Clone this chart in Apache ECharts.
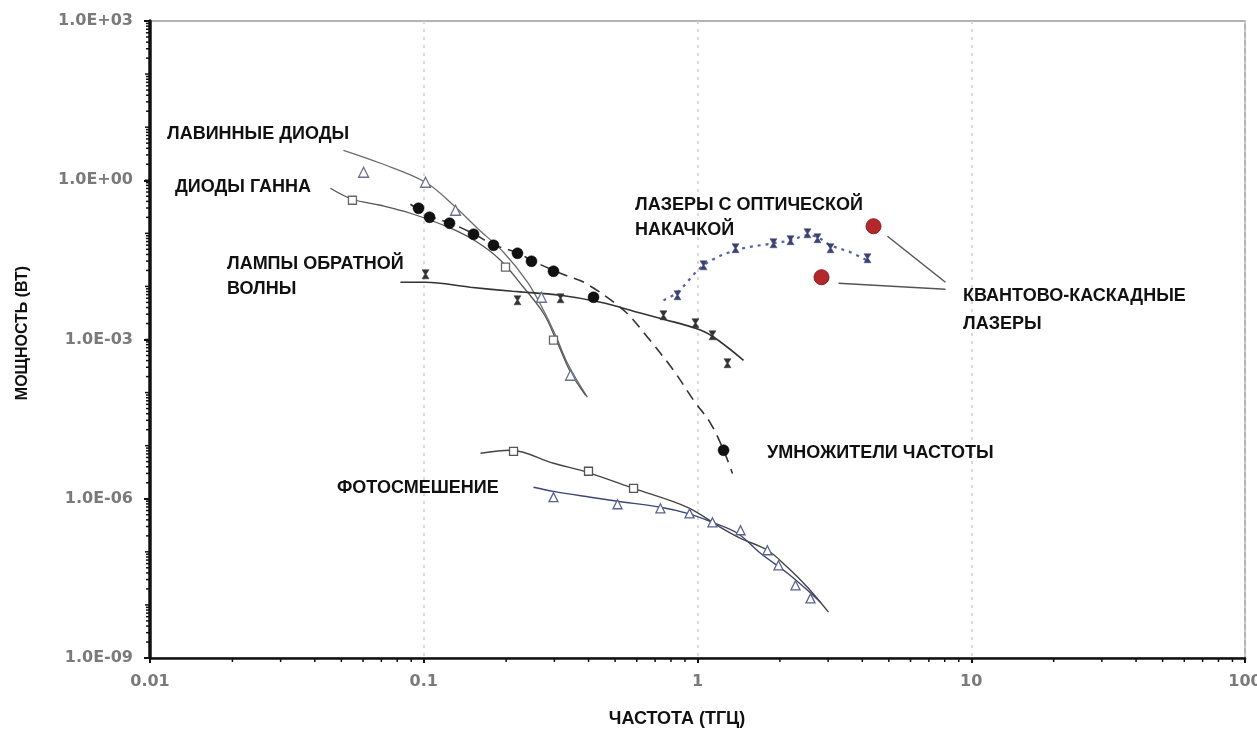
<!DOCTYPE html>
<html>
<head>
<meta charset="utf-8">
<script src="https://cdn.jsdelivr.net/npm/echarts@6/dist/echarts.min.js"></script>
<style>html,body{margin:0;padding:0;background:#fff}#c{width:1257px;height:729px}</style>
</head>
<body>
<div id="c"></div>
<script>
// ---- tick labels ----
const xTickLabels = ['0.01', '0.1', '1', '10', '100'];
const yTickLabels = ['1.0E-09', '1.0E-06', '1.0E-03', '1.0E+00', '1.0E+03'];
const minorMultipliers = [2, 3, 4, 5, 6, 7, 8, 9];
const xDecades = [0.01, 0.1, 1, 10];
const yDecades = [1e-9, 1e-8, 1e-7, 1e-6, 1e-5, 1e-4, 1e-3, 1e-2, 1e-1, 1, 10, 100];

// ---- data: [frequency THz, power W] ----
const avalancheCurve = [[0.0509,3.67],[0.0695,2.09],[0.1015,0.917],[0.1284,0.338],[0.157,0.125],[0.1956,0.044],[0.2393,0.012],[0.2738,0.00356],[0.303,0.0012],[0.338,3.27e-4],[0.396,8.2e-5]];
const avalancheMarks = [[0.0603,1.415],[0.1015,0.917],[0.1306,0.272],[0.269,0.00625],[0.3437,2.12e-4]];

const gunnCurve = [[0.0456,0.707],[0.0549,0.4385],[0.0695,0.338],[0.0894,0.239],[0.1253,0.125],[0.157,0.0679],[0.1907,0.0311],[0.2314,0.00964],[0.2738,0.00312],[0.303,0.00105],[0.3437,2.41e-4],[0.390,8.9e-5]];
const gunnMarks = [[0.0549,0.42],[0.1989,0.023],[0.2978,9.7e-4]];

const multiplierCurve = [[0.0894,0.353],[0.105,0.21],[0.1242,0.158],[0.152,0.098],[0.1798,0.061],[0.22,0.043],[0.2475,0.031],[0.2978,0.02],[0.3295,0.0162],[0.39,0.0115],[0.537,0.00356],[0.657,0.0011],[0.817,2.63e-4],[0.967,7.2e-5],[1.116,2.64e-5],[1.245,8.2e-6],[1.342,3.0e-6]];
const multiplierMarks = [[0.0957,0.297],[0.105,0.201],[0.1242,0.155],[0.152,0.0961],[0.1798,0.0596],[0.22,0.0421],[0.2475,0.0298],[0.2978,0.0193],[0.417,0.00625],[1.245,8.2e-6]];

const bwoCurve = [[0.0822,0.01198],[0.1015,0.01198],[0.148,0.00964],[0.211,0.0081],[0.316,0.00681],[0.442,0.00503],[0.604,0.00326],[0.751,0.00241],[0.983,0.00163],[1.134,0.00115],[1.473,4.06e-4]];
const bwoMarks = [[0.1015,0.01694],[0.220,0.00548],[0.316,0.00598],[0.751,0.00286],[0.983,0.00202],[1.134,0.0012],[1.287,3.57e-4]];

const laserCurve = [[0.751,0.00548],[0.845,0.00776],[1.052,0.025],[1.377,0.048],[1.895,0.065],[2.186,0.0741],[2.522,0.092],[2.744,0.0844],[3.061,0.0596],[3.622,0.044],[4.285,0.0285]];
const laserMarks = [[0.845,0.00681],[1.052,0.025],[1.377,0.0524],[1.895,0.065],[2.186,0.0741],[2.522,0.1003],[2.744,0.0808],[3.061,0.0524],[4.178,0.0339]];

const qclPoints = [[4.395,0.136],[2.838,0.0149]];
const qclLeader1 = [[4.943,0.0881],[8.05,0.01198]];
const qclLeader2 = [[3.273,0.01147],[8.05,0.00884]];

const photoUpperCurve = [[0.1612,7.19e-6],[0.2074,8.19e-6],[0.2978,4.66e-6],[0.396,3.15e-6],[0.584,1.57e-6],[0.919,6.9e-7],[1.213,2.9e-7],[1.436,1.8e-7],[1.802,1.07e-7],[2.132,5.1e-8],[2.522,2.15e-8],[3.01,7.3e-9]];
const photoUpperMarks = [[0.2128,7.84e-6],[0.3998,3.3e-6],[0.584,1.57e-6]];
const photoLowerCurve = [[0.2517,1.65e-6],[0.2978,1.38e-6],[0.4066,1.07e-6],[0.5103,8.97e-7],[0.732,6.9e-7],[0.919,5.3e-7],[1.134,3.6e-7],[1.4,2.24e-7],[1.699,9.4e-8],[2.132,3.95e-8],[2.522,1.89e-8],[2.813,1.12e-8]];
const photoLowerMarks = [[0.2978,1.07e-6],[0.5103,7.87e-7],[0.732,6.6e-7],[0.935,5.3e-7],[1.134,3.6e-7],[1.436,2.55e-7],[1.8,1.07e-7],[1.976,5.58e-8],[2.28,2.34e-8],[2.587,1.33e-8]];

// ---- build ----
const X_MIN = 0.01, X_MAX = 100, Y_MIN = 1e-9, Y_MAX = 1e3;
const xMinor = [];
xDecades.forEach(d => minorMultipliers.forEach(m => xMinor.push([d * m, Y_MIN])));
const yMinor = [];
yDecades.forEach(d => minorMultipliers.forEach(m => yMinor.push([X_MIN, d * m])));
const yMajorSmall = yDecades.map(d => [X_MIN, d]);

const HOURGLASS = 'path://M0,0L10,0L6,5L10,10L0,10L4,5Z';
const labelFont = 'bold 18px "Liberation Sans", Arial, sans-serif';
const yNameFont = 'bold 16px "Liberation Sans Narrow", "Liberation Sans", sans-serif';
const xNameFont = 'bold 18px "Liberation Sans Narrow", "Liberation Sans", sans-serif';

function lineSeries(data, color, width, type, z) {
  return { type: 'line', data, smooth: 0.35, showSymbol: false, symbol: 'none', silent: true,
    lineStyle: { color, width, type: type || 'solid' }, z: z || 2, animation: false };
}
function markSeries(data, symbol, size, fill, stroke, bw) {
  return { type: 'scatter', data, symbol, symbolSize: size, silent: true, z: 5, animation: false,
    itemStyle: { color: fill, borderColor: stroke, borderWidth: bw, opacity: 1 } };
}
function tickSeries(data, dir, len) {
  return { type: 'custom', data, clip: false, silent: true, z: 10, animation: false,
    renderItem(params, api) {
      const p = api.coord([api.value(0), api.value(1)]);
      const shape = dir === 'x' ? { x1: p[0], y1: p[1], x2: p[0], y2: p[1] + len }
                                : { x1: p[0], y1: p[1], x2: p[0] - len, y2: p[1] };
      return { type: 'line', shape, style: { stroke: '#111', lineWidth: 1.5 } };
    } };
}

const texts = [
  ['ЛАВИННЫЕ ДИОДЫ', 167, 134],
  ['ДИОДЫ ГАННА', 175, 187],
  ['ЛАМПЫ ОБРАТНОЙ', 227, 264],
  ['ВОЛНЫ', 227, 289],
  ['ЛАЗЕРЫ С ОПТИЧЕСКОЙ', 635, 205],
  ['НАКАЧКОЙ', 635, 230],
  ['КВАНТОВО-КАСКАДНЫЕ', 963, 296],
  ['ЛАЗЕРЫ', 963, 324],
  ['УМНОЖИТЕЛИ ЧАСТОТЫ', 767, 453],
  ['ФОТОСМЕШЕНИЕ', 337, 488]
];

const chart = echarts.init(document.getElementById('c'), null, { renderer: 'canvas' });
chart.setOption({
  animation: false,
  backgroundColor: '#fff',
  grid: { left: 150, right: 12, top: 21, bottom: 71, containLabel: false, outerBoundsMode: 'none',
    show: true, borderColor: '#9a9a9a', borderWidth: 1.5, backgroundColor: 'transparent' },
  xAxis: {
    type: 'log', logBase: 10, min: X_MIN, max: X_MAX,
    axisLine: { show: true, lineStyle: { color: '#111', width: 2.5 } },
    axisTick: { show: true, length: 5, inside: false, lineStyle: { color: '#111', width: 2 } },
    axisLabel: { margin: 16, color: '#7a7a7a', fontFamily: '"DejaVu Sans", sans-serif', fontWeight: 'bold', fontSize: 16,
      hideOverlap: false, showMaxLabel: true, showMinLabel: true,
      formatter: v => xTickLabels[Math.round(Math.log10(v)) + 2] },
    splitLine: { show: true, lineStyle: { color: '#cfcfcf', type: [3, 5], width: 1.5 } },
    minorTick: { show: false }
  },
  yAxis: {
    type: 'log', logBase: 1000, min: Y_MIN, max: Y_MAX,
    axisLine: { show: true, lineStyle: { color: '#111', width: 3.5 } },
    axisTick: { show: true, length: 6, lineStyle: { color: '#111', width: 2 } },
    axisLabel: { margin: 17, color: '#7a7a7a', fontFamily: '"DejaVu Sans", sans-serif', fontWeight: 'bold', fontSize: 16,
      formatter: v => yTickLabels[Math.round(Math.log10(v) / 3) + 3] },
    splitLine: { show: false }
  },
  graphic: [
    { type: 'text', x: 23, y: 333, rotation: Math.PI / 2, z: 100,
      style: { text: 'МОЩНОСТЬ (ВТ)', font: yNameFont, fill: '#111', align: 'center', verticalAlign: 'middle' } },
    { type: 'text', x: 677, y: 719, z: 100,
      style: { text: 'ЧАСТОТА (ТГЦ)', font: xNameFont, fill: '#111', align: 'center', verticalAlign: 'middle' } }
  ].concat(texts.map(t => ({ type: 'text', x: t[1], y: t[2], z: 100,
      style: { text: t[0], font: labelFont, fill: '#111', align: 'left', verticalAlign: 'middle' } }))),
  series: [
    tickSeries(xMinor, 'x', 4),
    tickSeries(yMinor, 'y', 4),
    tickSeries(yMajorSmall, 'y', 5),
    lineSeries(avalancheCurve, '#6b6b6b', 1.3),
    lineSeries(gunnCurve, '#555', 1.3),
    lineSeries(multiplierCurve, '#333', 1.6, [11, 7]),
    lineSeries(bwoCurve, '#333', 1.6),
    lineSeries(laserCurve, '#5463a8', 2.2, [3, 5]),
    lineSeries(photoUpperCurve, '#444', 1.4),
    lineSeries(photoLowerCurve, '#3d4576', 1.4),
    lineSeries(qclLeader1, '#555', 1.5),
    lineSeries(qclLeader2, '#555', 1.5),
    markSeries(avalancheMarks, 'triangle', 10, '#fff', '#6a7090', 1.3),
    markSeries(gunnMarks, 'rect', 8, '#fff', '#666', 1.3),
    markSeries(multiplierMarks, 'circle', 11, '#111', '#000', 0.5),
    markSeries(bwoMarks, HOURGLASS, [7, 9], '#333', '#333', 0.5),
    markSeries(laserMarks, HOURGLASS, [7, 9], '#3b4270', '#3b4270', 0.5),
    markSeries(qclPoints, 'circle', 15, '#b3282b', '#8c1c1f', 1),
    markSeries(photoUpperMarks, 'rect', 8, '#fff', '#555', 1.3),
    markSeries(photoLowerMarks, 'triangle', 9, '#fff', '#5a6290', 1.3)
  ]
});
</script>
</body>
</html>
